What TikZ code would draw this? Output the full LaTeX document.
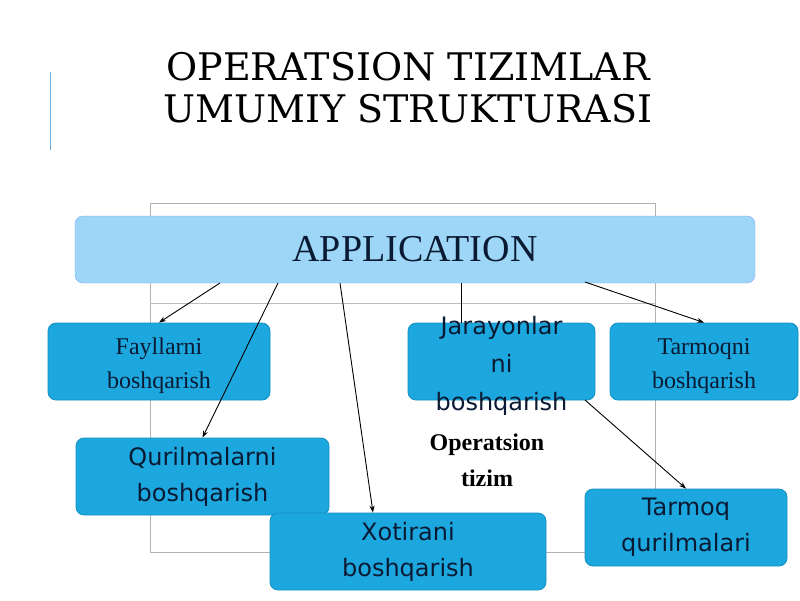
\documentclass[tikz,border=0pt]{standalone}
\usepackage{fontspec}
\setmainfont{Liberation Serif}
\newfontfamily\dvs{DejaVu Sans}
\newfontfamily\dvserif{DejaVu Serif}
\usetikzlibrary{arrows.meta}
\definecolor{appc}{HTML}{9ED6F7}
\definecolor{boxc}{HTML}{1CA8DF}
\definecolor{boxd}{HTML}{1590C0}
\definecolor{txt}{HTML}{0A1A33}
\begin{document}
\begin{tikzpicture}[x=1pt,y=-1pt,
  box/.style={draw=boxd,fill=boxc,rounded corners=8pt,line width=0.8pt,text=txt,align=center,font=\fontsize{24}{34}\selectfont},
  arr/.style={-{Stealth[length=7pt,width=5pt]},line width=0.9pt}]
\useasboundingbox (0,0) rectangle (800,600);
\fill[white] (0,0) rectangle (800,600);
\node[font=\dvserif\fontsize{38}{42}\selectfont,align=center,text=black] (title) at (408,88) {OPERATSION TIZIMLAR\\UMUMIY STRUKTURASI};
\draw[cyan!70!blue!60,line width=1pt] (50,72) coordinate (v1) -- (50,150) coordinate (v2);
\draw[gray!60,line width=0.8pt] (150,203) rectangle (655,552);
\draw[gray!50,line width=0.8pt] (150,303) coordinate (h1) -- (655,303) coordinate (h2);
\node[draw=appc!80!blue,fill=appc,rounded corners=8pt,minimum width=680,minimum height=67,text=txt,font=\fontsize{38}{40}\selectfont] (app) at (415,249.5) {APPLICATION};
\node[box,minimum width=222,minimum height=77] (f) at (159,361.5) {};
\node[text=txt,align=center,font=\fontsize{24}{34}\selectfont] (ft) at (159,366) {Fayllarni\\boshqarish};
\node[box,minimum width=187,minimum height=77] (j) at (501.5,361.5) {};
\node[text=txt,align=center,font=\dvs\fontsize{24}{38}\selectfont] (jt) at (501.5,366) {Jarayonlar\\ni\\boshqarish};
\node[box,minimum width=188,minimum height=77] (t) at (704,361.5) {};
\node[text=txt,align=center,font=\fontsize{24}{34}\selectfont] (tt) at (704,366) {Tarmoqni\\boshqarish};
\node[box,minimum width=253,minimum height=77,font=\dvs\fontsize{24}{36}\selectfont] (q) at (202.5,476.5) {Qurilmalarni\\boshqarish};
\node[box,minimum width=276,minimum height=77,font=\dvs\fontsize{24}{36}\selectfont] (x) at (408,551.5) {Xotirani\\boshqarish};
\node[box,minimum width=202,minimum height=77,font=\dvs\fontsize{24}{36}\selectfont] (tq) at (686,527.5) {Tarmoq\\qurilmalari};
\node[font=\bfseries\fontsize{24}{36}\selectfont,align=center] (os) at (487,460) {Operatsion\\tizim};
\draw[arr] (220,283) -- (f.north);
\draw[arr] (278,283) -- (q.north);
\draw[arr] (340,283) -- (x.north -| 373,0);
\draw[line width=0.9pt] (461,283) -- (j.north -| 461,0);
\draw[arr] (585,282) -- (t.north);
\draw[arr] (585,400) -- (tq.north);
\end{tikzpicture}
\end{document}
